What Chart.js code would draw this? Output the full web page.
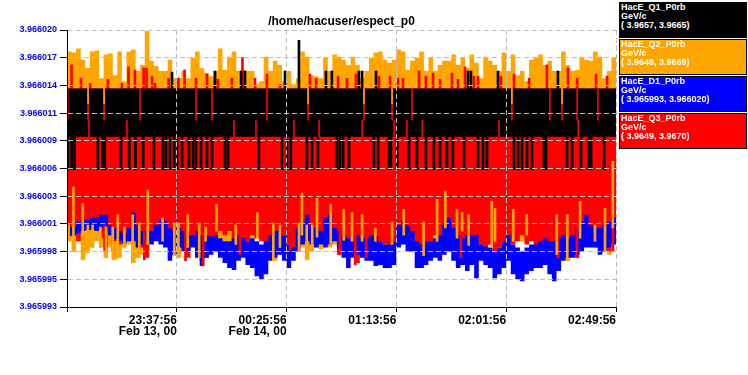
<!DOCTYPE html>
<html>
<head>
<meta charset="utf-8">
<script src="https://cdn.jsdelivr.net/npm/chart.js@4.4.1/dist/chart.umd.min.js"></script>
<style>
  html, body { margin: 0; padding: 0; background: #fff; }
  #wrap { position: relative; width: 748px; height: 375px; overflow: hidden; }
  #chart { position: absolute; left: 0; top: 0; }
  .key {
    position: absolute; left: 619px; width: 128px; height: 36px;
    box-sizing: border-box; border: 1px solid #000;
    color: #fff; font: bold 9px/9px "Liberation Sans", Arial, sans-serif;
    padding: 0 0 0 1px; white-space: pre;
  }
</style>
</head>
<body>
<div id="wrap">
  <canvas id="chart" width="748" height="375"></canvas>
</div>
<script>
// time axis: minutes after 22:49:56, one sample every 2 minutes
const BIN = 2;
// values are in units of 1e-7 GeV/c above 3.966000
const BASE = 3.966;
const UNIT = 1e-7;

const xTickMinutes = [0, 48, 96, 144, 192, 240];
const xTickLabels = ['', ['23:37:56', 'Feb 13, 00'], ['00:25:56', 'Feb 14, 00'], '01:13:56', '02:01:56', '02:49:56'];
const yTickLabels = ['3.965993', '3.965995', '3.965998', '3.966001', '3.966003', '3.966006',
                     '3.966009', '3.966011', '3.966014', '3.966017', '3.966020'];
const yMin = 3.965993, yMax = 3.966020;

const legendNames = ['HacE_Q1_P0rb', 'HacE_Q2_P0rb', 'HacE_D1_P0rb', 'HacE_Q3_P0rb'];
const legendUnit = 'GeV/c';
const legendRanges = ['( 3.9657, 3.9665)', '( 3.9649, 3.9669)', '( 3.965993, 3.966020)', '( 3.9649, 3.9670)'];
const legendColors = ['#000000', '#ffa500', '#0000ff', '#ff0000'];

// Q2 (orange) upper / lower envelope
const q2Hi = [179,178,182,171,163,179,180,153,176,177,
              156,179,150,179,181,160,166,199,170,165,
              160,160,171,153,153,160,153,173,179,163,
              158,155,160,182,161,174,179,160,161,160,
              160,147,150,174,160,170,166,150,160,147,
              153,179,174,156,155,153,173,160,176,174,
              171,166,174,166,153,160,173,178,179,171,
              168,171,181,179,161,170,173,179,160,173,
              160,166,170,170,176,166,173,163,176,168,
              153,174,170,166,160,178,160,176,156,160,
              150,171,173,176,166,170,160,160,179,166,
              160,161,174,171,170,179,174,153,160,173];
const q2Lo = [-6,-16,-6,-24,-17,-12,-6,-12,-22,-12,
              -24,-22,-12,-9,-27,-22,-19,-9,-6,-3,
              -6,-9,-12,-20,-22,-9,-12,-6,-22,-19,
              -9,-3,-6,-6,-9,-6,-9,-6,-9,-6,
              -6,-3,0,-6,-22,-25,-12,-9,-6,-9,
              -16,-12,-24,-16,-12,-14,-9,-12,-9,-9,
              -9,-6,-6,-9,-6,-6,-9,-9,-6,-9,
              -12,-12,-6,-3,-6,-9,-16,-27,-22,-12,
              -9,-9,-6,-6,-9,-6,-3,-9,-16,-12,
              -9,-6,-9,-12,-9,-16,-9,-6,-6,-6,
              -6,-3,-6,-6,-6,-9,-19,-22,-12,-25,
              -16,-19,-9,-6,-9,-12,-9,-16,-19,-9];

// Q3 (red) lower envelope, upper edge hidden under Q1
const q3Lo = [4,0,-6,7,7,10,7,-3,-12,0,
              -6,-9,-6,0,7,-6,-12,-22,0,4,
              7,7,4,-3,0,-6,-22,-6,-12,-25,
              -22,-6,0,4,0,4,-6,-12,-19,-6,
              0,-3,-6,-9,-3,0,-6,0,-9,-16,
              -12,-6,0,-6,-9,-6,0,-6,0,-19,
              -6,-6,-16,-27,-9,-22,-6,-3,-6,-9,
              -12,-6,4,4,4,0,-12,-16,-6,-9,
              0,0,4,-6,-9,-6,-12,-22,-6,-3,
              -9,-12,-9,-16,-12,-6,-3,-9,-6,0,
              -9,-6,-12,-9,-6,-12,-16,-22,-12,-9,
              -6,-22,-12,-6,-3,0,-6,-12,-16,-6];
const q3Top = 143;

// Q1 (black) main level range
const q1Floor = 96, q1Ceil = 143;

// D1 (blue) upper / lower envelope
const d1Hi = [8,8,13,15,15,17,17,20,20,10,
              7,4,2,7,22,10,4,4,4,10,
              15,14,7,4,7,4,0,0,4,0,
              0,-1,0,-3,-6,-6,-3,0,-3,-6,
              -3,-6,-9,-6,0,4,5,0,-9,-12,
              7,13,20,10,7,4,17,20,7,4,
              0,-3,0,0,-3,-3,0,-1,-6,-9,
              -9,-6,10,15,10,4,-6,-9,-6,-6,
              -3,0,10,17,7,0,-3,0,0,0,
              -9,-11,-12,-16,-12,-6,0,-9,-12,-16,
              -12,-9,-9,-6,-3,-6,-6,-3,0,-3,
              0,7,13,20,10,7,7,10,13,17];
const d1Lo = [-1,0,2,4,5,5,4,7,4,0,
              -4,-6,-8,-6,-6,-12,-9,-6,-9,-6,
              -9,-12,-25,-19,-12,-16,-16,-12,-22,-30,
              -22,-19,-16,-22,-27,-32,-34,-25,-22,-29,
              -32,-40,-43,-38,-25,-22,-19,-25,-32,-25,
              -16,-9,-6,-9,-12,-9,-12,-9,-6,-12,
              -22,-32,-22,-19,-22,-25,-25,-30,-29,-32,
              -32,-29,-12,-9,-16,-16,-32,-32,-29,-25,
              -22,-25,-19,-16,-25,-32,-29,-35,-29,-42,
              -25,-29,-32,-42,-38,-32,-25,-38,-43,-45,
              -38,-35,-32,-32,-29,-38,-45,-35,-25,-22,
              -22,-19,-16,-12,-12,-12,-19,-16,-12,-9];

// single excursions (minutes)
const q3SpikeT = [2.0,6.1,10.1,17.9,24.0,26.9,29.7,33.5,34.8,37.2,38.5,44.4,48.7,51.4,56.4,61.2,64.7,66.0,72.1,76.7,
                  82.2,87.4,93.1,106.2,108.9,118.5,122.4,126.3,136.4,141.2,144.7,146.9,153.9,156.9,160.0,163.1,168.3,170.9,174.0,177.9,
                  179.7,189.7,195.4,202.0,209.8,219.0,223.0,231.3,236.1];
const q3SpikeTop = [166,153,148,152,148,164,161,163,163,155,148,153,153,161,153,157,153,152,153,173,
                    153,157,147,157,153,155,153,157,155,155,153,153,160,155,158,152,158,152,164,155,
                    155,155,157,153,166,163,153,157,155];
const q3DropT = [16.5,20.0,33.8,51.8,59.5,75.6,97.5,119.3,126.0,130.8,172.2,214.6,222.9,238.7];
const q3DropBottom = [-16,-16,-24,-25,-30,-19,-16,-19,-29,-22,-22,-22,-22,-16];
const q3DropTop = 10;
const q1SpikeT = [45.9,64.7,76.1,77.8,95.3,101.4,113.2,115.8,127.6,129.0,135.1,175.3,176.6,188.4,214.6];
const q1SpikeTop = [159,160,160,160,160,190,160,160,160,160,160,160,160,160,160];
const q1DipT = [0.4,2.0,3.3,13.5,15.5,16.5,23.6,27.2,29.9,33.3,38.0,42.0,43.3,45.0,46.8,48.1,50.3,53.3,55.1,56.4,
                58.6,61.2,63.4,69.1,70.4,83.9,94.0,96.2,97.9,104.9,107.1,109.7,118.0,119.3,120.7,123.3,134.2,136.0,140.8,141.6,
                144.3,149.5,153.0,156.9,160.4,163.1,166.1,168.7,173.6,179.7,181.9,183.6,195.4,197.2,198.9,201.1,203.3,208.5,209.4,218.6,
                220.8,224.7,228.2,229.1,234.8];
const q1DipBottom = 64;
const q3UpperT = [0.3,9.2,16.2,31.9,56.4,63.4,87.4,105.4,129.8,142.1,150.8,194.5,211.1,216.4,223.0,232.1];
const q3LowerT = [9.6,26.2,73.0,82.6,99.2,110.2,129.0,143.0,148.6,155.3,188.9,223.5];
const q2InnerT = [9.2,16.2,105.4,129.8,142.1,194.5,216.4];
const q2DropT = [0.7,2.8,6.9,9.1,11.2,14.6,17.1,20.0,22.2,25.1,28.7,31.6,35.3,41.8,46.9,48.7,52.8,57.8,60.6,65.4,
                 73.8,83.2,90.2,93.1,101.4,102.7,104.8,107.2,109.3,115.3,121.0,124.6,129.0,134.8,142.1,147.2,155.9,161.8,165.4,170.5,
                 172.7,175.6,185.7,187.1,195.1,201.0,214.1,218.7,224.3,230.8,235.2,238.6];
const q2DropTop = [10,47,31,10,10,8,8,8,20,8,20,12,44,17,12,12,20,12,8,30,
                   10,22,12,10,12,41,10,10,36,30,25,22,20,7,13,25,13,35,43,25,
                   22,20,33,26,25,20,20,20,33,10,26,72];
const q2DropBottom = [-6,-16,-24,-17,-12,-12,-22,-24,-22,-12,-27,-22,-9,-6,-20,-22,-12,-22,-6,4,
                      -9,-3,-25,-12,-16,0,-24,-16,-2,-9,-5,-6,-6,-6,-9,0,-20,-6,7,-3,
                      4,-10,-12,-6,-6,0,-19,-25,-3,-6,-16,7];

const val = v => BASE + v * UNIT;

function steps(arr) {
    const pts = arr.map((v, i) => ({ x: i * BIN, y: val(v) }));
    pts.push({ x: arr.length * BIN, y: val(arr[arr.length - 1]) });
    return pts;
}

function line(data, extra) {
    return Object.assign({ type: 'line', data, stepped: true, pointRadius: 0, borderWidth: 0, fill: false }, extra);
}

function sticks(times, lo, hi, color, width, order) {
    return {
        type: 'bar', order, grouped: false, barThickness: width, backgroundColor: color, borderWidth: 0,
        data: times.map((t, i) => ({
            x: t,
            y: [val(Array.isArray(lo) ? lo[i] : lo), val(Array.isArray(hi) ? hi[i] : hi)]
        }))
    };
}

const datasets = [
    // thin drops below the red level (front)
    sticks(q2DropT, q2DropBottom, q2DropTop, '#ffa500', 2, 0),
    sticks(q3DropT, q3DropBottom, q3DropTop, '#ff0000', 2, 0),
    // D1 band
    line(steps(d1Lo), { order: 1 }),
    line(steps(d1Hi), { order: 1, fill: '-1', backgroundColor: '#0000ff' }),
    // short lines inside Q1
    sticks(q2InnerT, 128, 143, '#ffa500', 1, 2),
    sticks(q3UpperT, 112, 143, '#ff0000', 1, 3),
    sticks(q3LowerT, 96, 112, '#ff0000', 1, 3),
    sticks(q1SpikeT, q1Ceil, q1SpikeTop, '#000000', 2, 4),
    sticks(q1DipT, q1DipBottom, q1Floor, '#000000', 2, 4),
    // Q1 band
    line([{ x: 0, y: val(q1Floor) }, { x: 240, y: val(q1Floor) }], { order: 5, fill: { value: val(q1Ceil) }, backgroundColor: '#000000' }),
    sticks(q3SpikeT, q1Floor, q3SpikeTop, '#ff0000', 2, 6),
    // Q3 band
    line(steps(q3Lo), { order: 7, fill: { value: val(q3Top) }, backgroundColor: '#ff0000' }),
    // Q2 band (back)
    line(steps(q2Lo), { order: 8 }),
    line(steps(q2Hi), { order: 8, fill: '-1', backgroundColor: '#ffa500' })
];

Chart.defaults.font.family = '"Liberation Sans", Arial, sans-serif';

const gridColor = ctx => ctx.index === 0 ? 'rgba(0,0,0,0)' : '#bebebe';

new Chart(document.getElementById('chart'), {
    type: 'line',
    data: { datasets },
    options: {
        responsive: false,
        animation: false,
        events: [],
        layout: { padding: { left: 0, right: 132, top: 0, bottom: 0 } },
        plugins: {
            legend: { display: false },
            tooltip: { enabled: false },
            title: {
                display: true,
                text: '/home/hacuser/espect_p0',
                fullSize: false,
                color: '#000',
                font: { size: 12, weight: 'bold', lineHeight: 1 },
                padding: { top: 16, bottom: 2 }
            }
        },
        scales: {
            x: {
                type: 'linear',
                min: 0,
                max: 240,
                offset: false,
                afterBuildTicks: s => { s.ticks = xTickMinutes.map(v => ({ value: v })); },
                afterFit: s => { s.height = 68; },
                ticks: {
                    autoSkip: false,
                    maxRotation: 0,
                    align: 'end',
                    padding: 3,
                    color: '#000',
                    font: { size: 12, weight: 'bold', lineHeight: 0.95 },
                    callback: (v, i) => xTickLabels[i]
                },
                grid: { z: 1, offset: false, color: gridColor, tickColor: '#000', tickLength: 5, lineWidth: 1 },
                border: { z: 2, color: '#000', width: 1, dash: [5, 3] }
            },
            y: {
                min: yMin,
                max: yMax,
                afterBuildTicks: s => {
                    s.ticks = yTickLabels.map((_, k) => ({ value: yMin + k * (yMax - yMin) / (yTickLabels.length - 1) }));
                },
                afterFit: s => { s.width = 67; },
                ticks: {
                    color: '#0000ff',
                    padding: 3,
                    font: { size: 9, weight: 'bold' },
                    callback: (v, i) => yTickLabels[i]
                },
                grid: { z: 1, color: gridColor, tickColor: '#000', tickLength: 7, lineWidth: 1 },
                border: { z: 2, color: '#000', width: 1, dash: [5, 3] }
            }
        }
    }
});

// legend boxes on the right
const keyTops = [2, 39, 76, 113];
const wrap = document.getElementById('wrap');
legendNames.forEach((name, i) => {
    const box = document.createElement('div');
    box.className = 'key';
    box.style.top = keyTops[i] + 'px';
    box.style.background = legendColors[i];
    box.textContent = name + '\n' + legendUnit + '\n' + legendRanges[i];
    wrap.appendChild(box);
});
</script>
</body>
</html>
